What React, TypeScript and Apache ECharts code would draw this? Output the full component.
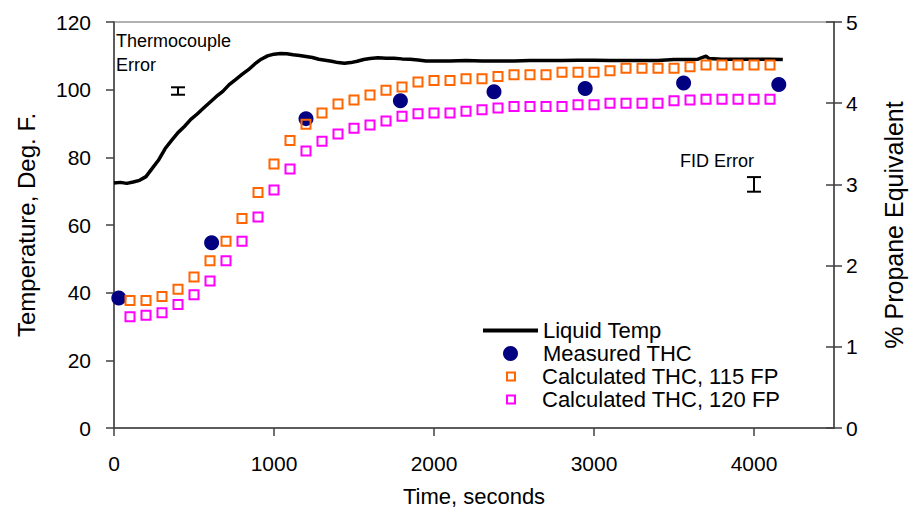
import React, { useEffect, useRef } from "react";
import * as echarts from "echarts";

const FONT = "'Liberation Sans', Arial, Helvetica, sans-serif";

// Liquid temperature trace: [seconds, deg F]
const liquidTemp: [number, number][] = [
  [0, 72.4], [40, 72.6], [80, 72.3], [120, 72.7], [160, 73.2], [200, 74.3], [240, 76.8],
  [280, 79.3], [320, 82.6], [360, 85.0], [400, 87.3], [440, 89.1], [480, 91.2], [520, 92.8],
  [560, 94.6], [600, 96.3], [640, 98.0], [680, 99.5], [720, 101.5], [760, 103.0], [800, 104.5],
  [840, 105.9], [880, 107.6], [920, 109.0], [960, 110.0], [1000, 110.5], [1040, 110.7],
  [1080, 110.6], [1120, 110.3], [1160, 110.1], [1200, 109.8], [1240, 109.5], [1280, 109.0],
  [1320, 108.7], [1360, 108.4], [1400, 108.0], [1440, 107.8], [1480, 108.0], [1520, 108.4],
  [1560, 108.9], [1600, 109.2], [1650, 109.4], [1700, 109.3], [1750, 109.3], [1800, 109.1],
  [1850, 109.0], [1900, 108.8], [1950, 108.5], [2000, 108.5], [2100, 108.5], [2200, 108.6],
  [2300, 108.5], [2400, 108.5], [2500, 108.5], [2600, 108.6], [2700, 108.6], [2800, 108.6],
  [2900, 108.7], [3000, 108.7], [3100, 108.6], [3200, 108.6], [3300, 108.6], [3400, 108.6],
  [3500, 108.9], [3600, 108.9], [3650, 109.0], [3700, 109.9], [3720, 109.2], [3800, 109.0],
  [3900, 109.0], [4000, 109.0], [4100, 109.0], [4180, 108.9],
];

// Measured THC (% propane equivalent)
const measuredTime = [30, 610, 1200, 1790, 2375, 2945, 3560, 4155];
const measuredTHC = [1.6, 2.28, 3.81, 4.03, 4.14, 4.18, 4.25, 4.23];

// Calculated THC (% propane equivalent)
const calcTime = [
  100, 200, 300, 400, 500, 600, 700, 800, 900, 1000, 1100, 1200, 1300, 1400, 1500, 1600, 1700,
  1800, 1900, 2000, 2100, 2200, 2300, 2400, 2500, 2600, 2700, 2800, 2900, 3000, 3100, 3200,
  3300, 3400, 3500, 3600, 3700, 3800, 3900, 4000, 4100,
];
const calc115 = [
  1.57, 1.57, 1.62, 1.71, 1.86, 2.06, 2.3, 2.58, 2.9, 3.25, 3.54, 3.74, 3.88, 3.99, 4.04, 4.1,
  4.16, 4.2, 4.26, 4.28, 4.28, 4.3, 4.3, 4.33, 4.35, 4.35, 4.35, 4.38, 4.38, 4.38, 4.4, 4.43,
  4.43, 4.43, 4.43, 4.45, 4.47, 4.47, 4.47, 4.47, 4.47,
];
const calc120 = [
  1.37, 1.39, 1.42, 1.52, 1.64, 1.81, 2.06, 2.3, 2.6, 2.93, 3.19, 3.41, 3.53, 3.62, 3.69, 3.73,
  3.78, 3.84, 3.87, 3.88, 3.88, 3.9, 3.92, 3.94, 3.96, 3.96, 3.96, 3.96, 3.98, 3.98, 4.0, 4.0,
  4.0, 4.0, 4.03, 4.04, 4.05, 4.05, 4.05, 4.05, 4.05,
];

// Error bars: [time, low, high]
const thermocoupleError: [number, number, number][] = [[400, 98.5, 100.7]];
const fidError: [number, number, number][] = [[4000, 2.91, 3.09]];

const xTickValues = [0, 1000, 2000, 3000, 4000];

const errorRender = (params: any, api: any) => {
  const x = api.value(0);
  const lo = api.coord([x, api.value(1)]);
  const hi = api.coord([x, api.value(2)]);
  const w = 7;
  const style = { stroke: "#000", lineWidth: 2 };
  return {
    type: "group",
    children: [
      { type: "line", shape: { x1: lo[0], y1: lo[1], x2: hi[0], y2: hi[1] }, style },
      { type: "line", shape: { x1: lo[0] - w, y1: lo[1], x2: lo[0] + w, y2: lo[1] }, style },
      { type: "line", shape: { x1: hi[0] - w, y1: hi[1], x2: hi[0] + w, y2: hi[1] }, style },
    ],
  };
};

const BAR = "path://M0,0H55V4H0Z";

export default function App() {
  const ref = useRef<HTMLDivElement>(null);
  useEffect(() => {
    if (!ref.current) return;
    const chart = echarts.init(ref.current, undefined, { renderer: "svg" });
    const axisColor = "#404040";
    const legendText = { fontSize: 22, color: "#000", fontFamily: FONT, lineHeight: 23 };
    chart.setOption({
      animation: false,
      backgroundColor: "#fff",
      textStyle: { fontFamily: FONT },
      grid: { left: 114, right: 73, top: 22, bottom: 84, show: true, borderColor: "#999", borderWidth: 1.5 },
      xAxis: {
        type: "value",
        min: 0,
        max: 4500,
        interval: 1000,
        name: "Time, seconds",
        nameLocation: "middle",
        nameGap: 57,
        nameTextStyle: { fontSize: 22, color: "#000", fontFamily: FONT },
        axisLine: { lineStyle: { color: axisColor, width: 1.5 } },
        axisTick: { length: 8, customValues: xTickValues, lineStyle: { color: axisColor, width: 1.5 } },
        axisLabel: {
          customValues: xTickValues,
          fontSize: 21,
          color: "#000",
          margin: 25,
          fontFamily: FONT,
          formatter: (v: number) => String(v),
        },
        splitLine: { show: false },
      },
      yAxis: [
        {
          type: "value",
          min: 0,
          max: 120,
          interval: 20,
          position: "left",
          name: "Temperature, Deg. F.",
          nameLocation: "middle",
          nameRotate: 90,
          nameGap: 76,
          nameTextStyle: { fontSize: 24, color: "#000", fontFamily: FONT },
          axisLine: { show: true, lineStyle: { color: axisColor, width: 1.5 } },
          axisTick: { show: true, length: 8, lineStyle: { color: axisColor, width: 1.5 } },
          axisLabel: { fontSize: 21, color: "#000", margin: 23, fontFamily: FONT },
          splitLine: { show: false },
        },
        {
          type: "value",
          min: 0,
          max: 5,
          interval: 1,
          position: "right",
          name: "% Propane Equivalent",
          nameLocation: "middle",
          nameRotate: 90,
          nameGap: 47,
          nameTextStyle: { fontSize: 25, color: "#000", fontFamily: FONT },
          axisLine: { show: true, lineStyle: { color: axisColor, width: 1.5 } },
          axisTick: { show: true, length: 8, lineStyle: { color: axisColor, width: 1.5 } },
          axisLabel: { fontSize: 21, color: "#000", margin: 12, fontFamily: FONT },
          splitLine: { show: false },
        },
        {
          type: "value",
          min: 0,
          max: 5,
          interval: 1,
          position: "right",
          axisLine: { show: false },
          axisTick: { show: true, inside: true, length: 8, lineStyle: { color: axisColor, width: 1.5 } },
          axisLabel: { show: false },
          splitLine: { show: false },
        },
      ],
      legend: [
        {
          data: [
            { name: "Liquid Temp", icon: BAR, itemStyle: { color: "#000", borderWidth: 0 } },
            { name: "Measured THC", icon: "circle" },
          ],
          orient: "vertical",
          left: 483,
          top: 319,
          padding: 0,
          itemGap: 0,
          itemWidth: 55,
          itemHeight: 15,
          symbolKeepAspect: true,
          selectedMode: false,
          textStyle: legendText,
        },
        {
          data: [
            {
              name: "Calculated THC, 115 FP",
              icon: "rect",
              itemStyle: { color: "rgba(255,255,255,0)", borderColor: "#FF6600", borderWidth: 2 },
            },
            {
              name: "Calculated THC, 120 FP",
              icon: "rect",
              itemStyle: { color: "rgba(255,255,255,0)", borderColor: "#FF00FF", borderWidth: 2 },
            },
          ],
          orient: "vertical",
          left: 506,
          top: 365,
          padding: 0,
          itemGap: 0,
          itemWidth: 8,
          itemHeight: 8,
          selectedMode: false,
          textStyle: { ...legendText, padding: [0, 0, 0, 22] },
        },
      ],
      graphic: [
        { type: "text", left: 116, top: 32, style: { text: "Thermocouple", fontSize: 18, fill: "#000", fontFamily: FONT } },
        { type: "text", left: 116, top: 56, style: { text: "Error", fontSize: 18, fill: "#000", fontFamily: FONT } },
        { type: "text", left: 680, top: 152, style: { text: "FID Error", fontSize: 18, fill: "#000", fontFamily: FONT } },
      ],
      series: [
        {
          name: "Liquid Temp",
          type: "line",
          yAxisIndex: 0,
          data: liquidTemp,
          symbol: "none",
          showSymbol: false,
          lineStyle: { color: "#000", width: 3.5 },
          itemStyle: { color: "#000" },
          z: 3,
        },
        {
          name: "Measured THC",
          type: "scatter",
          yAxisIndex: 1,
          data: measuredTime.map((t, i) => [t, measuredTHC[i]]),
          symbol: "circle",
          symbolSize: 15,
          itemStyle: { color: "#000080", opacity: 1 },
          z: 4,
        },
        {
          name: "Calculated THC, 115 FP",
          type: "scatter",
          yAxisIndex: 1,
          data: calcTime.map((t, i) => [t, calc115[i]]),
          symbol: "rect",
          symbolSize: 9,
          itemStyle: { color: "rgba(255,255,255,0)", borderColor: "#FF6600", borderWidth: 2, opacity: 1 },
          z: 5,
        },
        {
          name: "Calculated THC, 120 FP",
          type: "scatter",
          yAxisIndex: 1,
          data: calcTime.map((t, i) => [t, calc120[i]]),
          symbol: "rect",
          symbolSize: 9,
          itemStyle: { color: "rgba(255,255,255,0)", borderColor: "#FF00FF", borderWidth: 2, opacity: 1 },
          z: 5,
        },
        {
          name: "Thermocouple Error",
          type: "custom",
          yAxisIndex: 0,
          data: thermocoupleError,
          renderItem: errorRender,
          z: 6,
        },
        {
          name: "FID Error",
          type: "custom",
          yAxisIndex: 1,
          data: fidError,
          renderItem: errorRender,
          z: 6,
        },
      ],
    });
    return () => chart.dispose();
  }, []);
  return (
    <div
      ref={ref}
      style={{ position: "fixed", left: 0, top: 0, width: 914, height: 512, background: "#fff" }}
    />
  );
}
